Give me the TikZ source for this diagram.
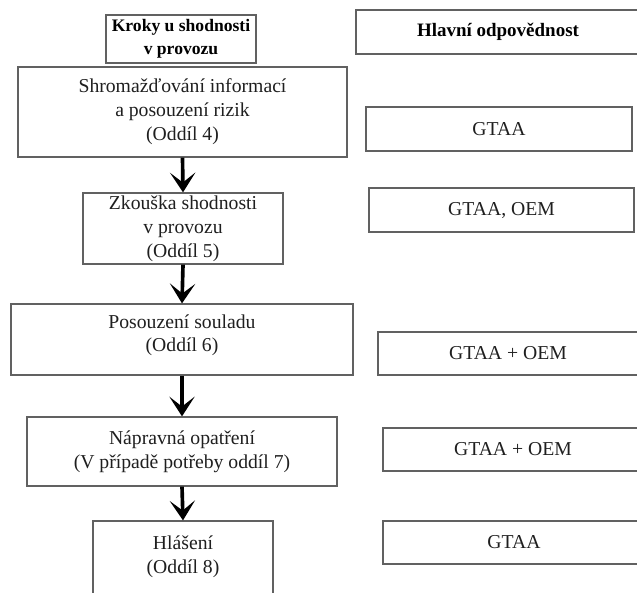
\documentclass[tikz,border=0pt]{standalone}
\usepackage{fontspec}
\setmainfont{Liberation Serif}
\usetikzlibrary{positioning}
\usetikzlibrary{arrows.meta}

\definecolor{boxgray}{gray}{0.38}
\definecolor{txtgray}{gray}{0.12}

\tikzset{
 stepbox/.style={draw=boxgray,line width=0.9pt,inner sep=0pt,align=center,
  text=txtgray,font=\fontsize{14}{17}\selectfont},
 headbox/.style={stepbox,font=\fontsize{13.5}{17}\selectfont\bfseries,text=black},
 dutybox/.style={stepbox},
 boxsize/.style 2 args={minimum width=#1*0.025cm,minimum height=#2*0.025cm},
 arr/.style={line width=2.6pt,-{Stealth[length=14pt,width=18pt,inset=7pt]}}
}

\begin{document}
\begin{tikzpicture}[x=0.025cm,y=-0.025cm]
 \useasboundingbox (0,0) rectangle (637,592);
 \clip (0,0) rectangle (637,592);
 % left column
 \node[headbox,font=\fontsize{12.5}{16.5}\selectfont\bfseries,boxsize={150}{48}] (head1) at (181,39) {Kroky u shodnosti\\v provozu};
 \node[stepbox,boxsize={329}{90}] (s1) at (182.5,112) {Shromažďování informací\\a posouzení rizik\\(Oddíl 4)};
 \node[stepbox,boxsize={200}{71}] (s2) at (183,228.5) {Zkouška shodnosti\\v provozu\\(Oddíl 5)};
 \node[stepbox,boxsize={342}{71}] (s3) at (182,339.5) {Posouzení souladu\\(Oddíl 6)\\[-8pt]\mbox{}};
 \node[stepbox,boxsize={310}{69}] (s4) at (182,451.5) {Nápravná opatření\\(V případě potřeby oddíl 7)};
 \node[stepbox,boxsize={180}{91}] (s5) at (183,566.5) {Hlášení\\(Oddíl 8)\\\mbox{}};
 % right column
 \node[headbox,boxsize={284}{44}] (head2) at (498,32) {Hlavní odpovědnost};
 \node[dutybox,boxsize={266}{44}] (r1) at (499,129) {GTAA};
 \node[dutybox,boxsize={265}{44}] (r2) at (501.5,210) {GTAA, OEM};
 \node[dutybox,boxsize={260}{43}] (r3) at (508,353.5) {GTAA + OEM};
 \node[dutybox,boxsize={260}{43}] (r4) at (513,449.5) {GTAA + OEM};
 \node[dutybox,boxsize={262}{43}] (r5) at (514,542.5) {GTAA};
 % arrows
 \draw[arr] (s1.south) -- (s2.north);
 \draw[arr] (s2.south) -- (s3.north);
 \draw[arr] (s3.south) -- (s4.north);
 \draw[arr] (s4.south) -- (s5.north);
\end{tikzpicture}
\end{document}
